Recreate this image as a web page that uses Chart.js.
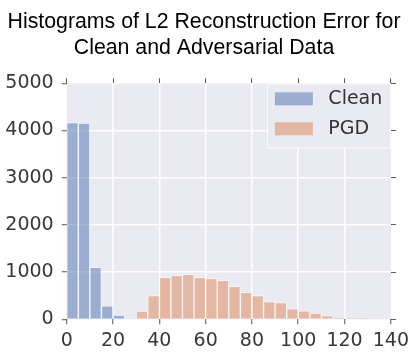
<!DOCTYPE html>
<html>
<head>
<meta charset="utf-8">
<script src="https://cdn.jsdelivr.net/npm/chart.js@4.4.1/dist/chart.umd.min.js"></script>
<style>
  html, body { margin: 0; padding: 0; background: #ffffff; }
  #wrap { width: 414px; height: 358px; position: relative; }
</style>
</head>
<body>
<div id="wrap"><canvas id="c" width="414" height="358"></canvas></div>
<script>
// Histogram bin centres (bin width 5)
const binCenters = [2.5, 7.5, 12.5, 17.5, 22.5, 27.5, 32.5, 37.5, 42.5, 47.5, 52.5, 57.5, 62.5, 67.5, 72.5, 77.5, 82.5, 87.5, 92.5, 97.5, 102.5, 107.5, 112.5, 117.5, 122.5, 127.5];
// Counts per bin
const cleanCounts = [4170, 4160, 1100, 285, 90, null, null, null, null, null, null, null, null, null, null, null, null, null, null, null, null, null, null, null, null, null];
const pgdCounts   = [null, null, null, null, null, null, 175, 500, 890, 932, 955, 890, 868, 826, 700, 572, 500, 373, 352, 225, 182, 133, 77, 35, 14, 4];
const seriesLabels = ['Clean', 'PGD'];
const xTicks = [0, 20, 40, 60, 80, 100, 120, 140];
const yTicks = [0, 1000, 2000, 3000, 4000, 5000];
const titleLines = ['Histograms of L2 Reconstruction Error for', 'Clean and Adversarial Data'];

const toPoints = (vals) => binCenters.map((x, i) => ({ x: x, y: vals[i] }));

const bgPlugin = {
  id: 'axesBg',
  beforeDraw(chart) {
    const { ctx, chartArea: a } = chart;
    ctx.save();
    ctx.fillStyle = '#EAEAF2';
    ctx.fillRect(a.left, a.top, a.right - a.left, a.bottom - a.top);
    ctx.restore();
  }
};

const legendPlugin = {
  id: 'insideLegend',
  afterDatasetsDraw(chart) {
    const { ctx, chartArea: a } = chart;
    const boxW = 124, boxH = 65;
    const x0 = a.right - boxW, y0 = a.top;
    ctx.save();
    ctx.fillStyle = '#EAEAF2';
    ctx.fillRect(x0, y0, boxW, boxH);
    ctx.strokeStyle = 'rgba(255,255,255,0.9)';
    ctx.lineWidth = 1;
    ctx.strokeRect(x0 + 0.5, y0 + 0.5, boxW - 1, boxH - 1);
    ctx.font = '19px "DejaVu Sans"';
    ctx.textBaseline = 'middle';
    ctx.textAlign = 'left';
    chart.data.datasets.forEach((ds, i) => {
      const cy = y0 + 15.5 + i * 30;
      ctx.fillStyle = ds.backgroundColor;
      ctx.fillRect(x0 + 8, cy - 6.5, 38, 13);
      ctx.fillStyle = '#333333';
      ctx.fillText(ds.label, x0 + 61.5, cy + 0.5);
    });
    ctx.restore();
  }
};

const gridColor = (edgeVals) => (c) => (c.tick && edgeVals.includes(c.tick.value)) ? 'rgba(0,0,0,0)' : '#FFFFFF';
const plainLabel = (v) => String(v);

new Chart(document.getElementById('c'), {
  type: 'bar',
  data: {
    datasets: [
      {
        label: seriesLabels[0],
        data: toPoints(cleanCounts),
        backgroundColor: 'rgba(76,114,176,0.5)',
        borderColor: 'rgba(255,255,255,0.5)',
        borderWidth: 1,
        borderSkipped: 'start',
        grouped: false,
        barPercentage: 1,
        categoryPercentage: 1
      },
      {
        label: seriesLabels[1],
        data: toPoints(pgdCounts),
        backgroundColor: 'rgba(221,132,82,0.5)',
        borderColor: 'rgba(255,255,255,0.5)',
        borderWidth: 1,
        borderSkipped: 'start',
        grouped: false,
        barPercentage: 1,
        categoryPercentage: 1
      }
    ]
  },
  options: {
    responsive: false,
    animation: false,
    devicePixelRatio: 1,
    layout: { padding: { left: 0, right: 6, top: 0, bottom: 0 } },
    plugins: {
      legend: { display: false },
      tooltip: { enabled: false },
      title: {
        display: true,
        text: titleLines,
        color: '#000000',
        font: { family: '"Liberation Sans", Arial, sans-serif', size: 21.3, weight: 'normal', lineHeight: 1.24 },
        padding: { top: 8.5, bottom: 16 }
      }
    },
    scales: {
      x: {
        type: 'linear',
        position: 'bottom',
        offset: false,
        min: 0, max: 140,
        afterBuildTicks: (s) => { s.ticks = xTicks.map(v => ({ value: v })); },
        afterFit: (s) => { s.height = 38.7; },
        border: { display: false },
        grid: { offset: false, color: gridColor([0, 140]), lineWidth: 1.5, drawTicks: true, tickLength: 5, tickColor: '#555555', tickWidth: 1 },
        ticks: { color: '#383838', font: { family: '"DejaVu Sans"', size: 19 }, padding: 5, maxRotation: 0, callback: plainLabel }
      },
      x2: {
        type: 'linear',
        position: 'top',
        offset: false,
        min: 0, max: 140,
        afterBuildTicks: (s) => { s.ticks = xTicks.map(v => ({ value: v })); },
        afterFit: (s) => { s.height = 6; },
        border: { display: false },
        grid: { offset: false, drawOnChartArea: false, drawTicks: true, tickLength: 5, tickColor: '#555555', tickWidth: 1 },
        ticks: { display: false }
      },
      y: {
        type: 'linear',
        position: 'left',
        min: 0, max: 5000,
        afterBuildTicks: (s) => { s.ticks = yTicks.map(v => ({ value: v })); },
        afterFit: (s) => { s.width = 66.7; },
        border: { display: false },
        grid: { color: gridColor([0, 5000]), lineWidth: 1.5, drawTicks: true, tickLength: 5, tickColor: '#555555', tickWidth: 1 },
        ticks: { color: '#383838', font: { family: '"DejaVu Sans"', size: 19 }, padding: 8, callback: plainLabel }
      },
      y2: {
        type: 'linear',
        position: 'right',
        min: 0, max: 5000,
        afterBuildTicks: (s) => { s.ticks = yTicks.map(v => ({ value: v })); },
        afterFit: (s) => { s.width = 16.5; },
        border: { display: false },
        grid: { drawOnChartArea: false, drawTicks: true, tickLength: 5, tickColor: '#555555', tickWidth: 1 },
        ticks: { display: false }
      }
    }
  },
  plugins: [bgPlugin, legendPlugin]
});
</script>
</body>
</html>
